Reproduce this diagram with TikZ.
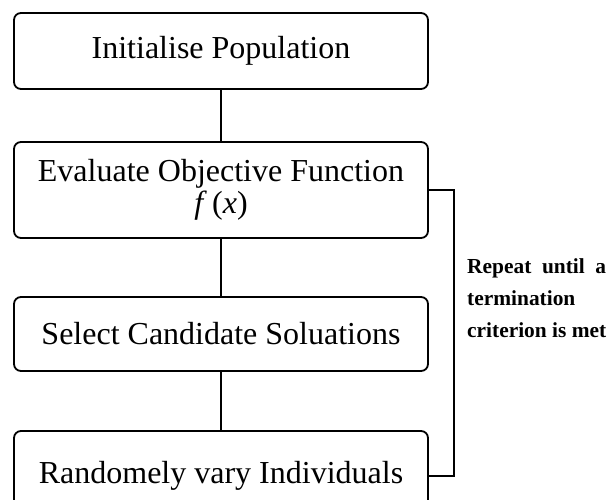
\documentclass[tikz,border=0pt]{standalone}
\usepackage{fontspec}
\setmainfont{Liberation Serif}
\begin{document}
\begin{tikzpicture}[x=1pt,y=-1pt,
  stagebox/.style={draw, line width=1.8pt, rounded corners=7pt,
    minimum width=414pt, inner sep=0pt, align=center,
    font=\fontsize{32}{32}\selectfont},
  link/.style={line width=1.8pt}]
  \useasboundingbox (0,0) rectangle (608,499);

  % the four stages of the loop
  \node[stagebox, minimum height=76pt] (init) at (221,51) {Initialise Population};
  \node[stagebox, minimum height=96pt] (eval) at (221,190)
    {Evaluate Objective Function\\\textit{f}\,(\textit{x})};
  \node[stagebox, minimum height=74pt] (sel)  at (221,334) {Select Candidate Soluations};
  \node[stagebox, minimum height=90pt] (vary) at (221,476) {Randomely vary Individuals};

  \draw[link] (init) -- (eval);
  \draw[link] (eval) -- (sel);
  \draw[link] (sel) -- (vary);

  % repeat bracket on the right
  \coordinate (bk) at (454,190);
  \draw[link] (eval.east) -- (bk) |- (vary.east);

  \node[anchor=west, inner sep=0pt, align=left,
    font=\bfseries\fontsize{21.4}{32}\selectfont] (note) at (467,298)
    {\makebox[139pt][s]{Repeat until a}\\termination\\\makebox[139pt][s]{criterion is met}};
\end{tikzpicture}
\end{document}
